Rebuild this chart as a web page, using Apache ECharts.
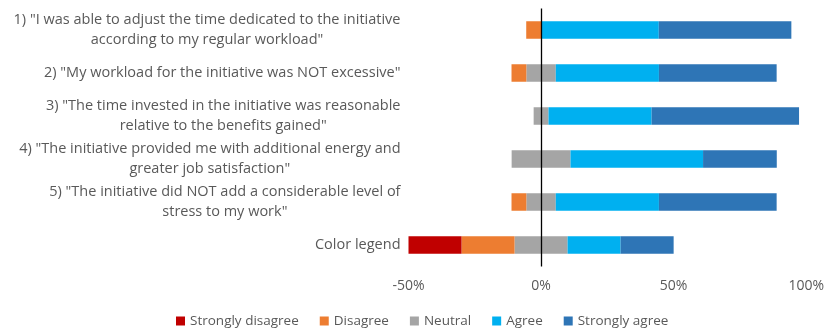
<!DOCTYPE html>
<html>
<head>
<meta charset="utf-8">
<script src="https://cdn.jsdelivr.net/npm/echarts@6/dist/echarts.min.js"></script>
<style>
  html, body { margin: 0; padding: 0; background: #fff; }
  #chart { width: 827px; height: 332px; }
</style>
</head>
<body>
<div id="chart"></div>
<script>
// Survey statements (top to bottom) and the share of answers per response level, in %
const categories = [
  '1) "I was able to adjust the time dedicated to the initiative\naccording to my regular workload"',
  '2) "My workload for the initiative was NOT excessive"',
  '3) "The time invested in the initiative was reasonable\nrelative to the benefits gained"',
  '4) "The initiative provided me with additional energy and\ngreater job satisfaction"',
  '5) "The initiative did NOT add a considerable level of\nstress to my work"',
  'Color legend'
];
const stronglyDisagree = [0, 0, 0, 0, 0, 20];
const disagree         = [5.6, 5.6, 0, 0, 5.6, 20];
const neutral          = [0, 11.1, 5.6, 22.2, 11.1, 20];
const agree            = [44.4, 38.9, 38.9, 50, 38.9, 20];
const stronglyAgree    = [50, 44.4, 55.6, 27.8, 44.4, 20];
const xTicks = [-50, 0, 50, 100];

const colors = {
  sd: '#C00000', d: '#ED7D31', n: '#A5A5A5', a: '#00B0F0', sa: '#2E75B6'
};
const textColor = '#595959';
const font = '"Open Sans", sans-serif';

// Neutral is split evenly around zero; disagreement stacks to the left, agreement to the right
const neutralLeft = neutral.map(v => -v / 2);
const neutralRight = neutral.map(v => v / 2);
const neg = arr => arr.map(v => -v);

function bar(name, data, color, extra) {
  return Object.assign({
    name: name,
    type: 'bar',
    stack: 'likert',
    data: data,
    barWidth: 17.5,
    itemStyle: { color: color },
    emphasis: { disabled: true }
  }, extra || {});
}

const chart = echarts.init(document.getElementById('chart'), null, { renderer: 'canvas' });
chart.setOption({
  animation: false,
  textStyle: { fontFamily: font },
  grid: { left: 408.5, right: 20.5, top: 8.5, bottom: 65.5, containLabel: false },
  legend: {
    left: 171,
    top: 309,
    itemWidth: 9,
    itemHeight: 9,
    itemGap: 21,
    icon: 'rect',
    textStyle: { color: textColor, fontSize: 13.5, fontFamily: font },
    data: ['Strongly disagree', 'Disagree', 'Neutral', 'Agree', 'Strongly agree']
  },
  xAxis: {
    type: 'value',
    min: xTicks[0],
    max: xTicks[xTicks.length - 1],
    interval: 50,
    axisLine: { show: false },
    axisTick: { show: false },
    splitLine: { show: false },
    axisLabel: {
      color: textColor,
      fontSize: 14,
      fontFamily: font,
      margin: 13,
      formatter: v => v + '%'
    }
  },
  yAxis: {
    type: 'category',
    inverse: true,
    data: categories,
    axisLine: { show: false },
    axisTick: { show: false },
    axisLabel: {
      color: textColor,
      fontSize: 14.5,
      fontFamily: font,
      margin: 8,
      align: 'right',
      lineHeight: 20,
      formatter: v => '{c|' + v + '}',
      rich: {
        c: { align: 'center', color: textColor, fontSize: 14.5, fontFamily: font, lineHeight: 20 }
      }
    }
  },
  series: [
    bar('Neutral', neutralLeft, colors.n, {
      markLine: {
        silent: true,
        symbol: 'none',
        label: { show: false },
        lineStyle: { color: '#000', width: 1.3, type: 'solid' },
        data: [{ xAxis: 0 }]
      }
    }),
    bar('Neutral', neutralRight, colors.n),
    bar('Disagree', neg(disagree), colors.d),
    bar('Agree', agree, colors.a),
    bar('Strongly disagree', neg(stronglyDisagree), colors.sd),
    bar('Strongly agree', stronglyAgree, colors.sa)
  ]
});
</script>
</body>
</html>
